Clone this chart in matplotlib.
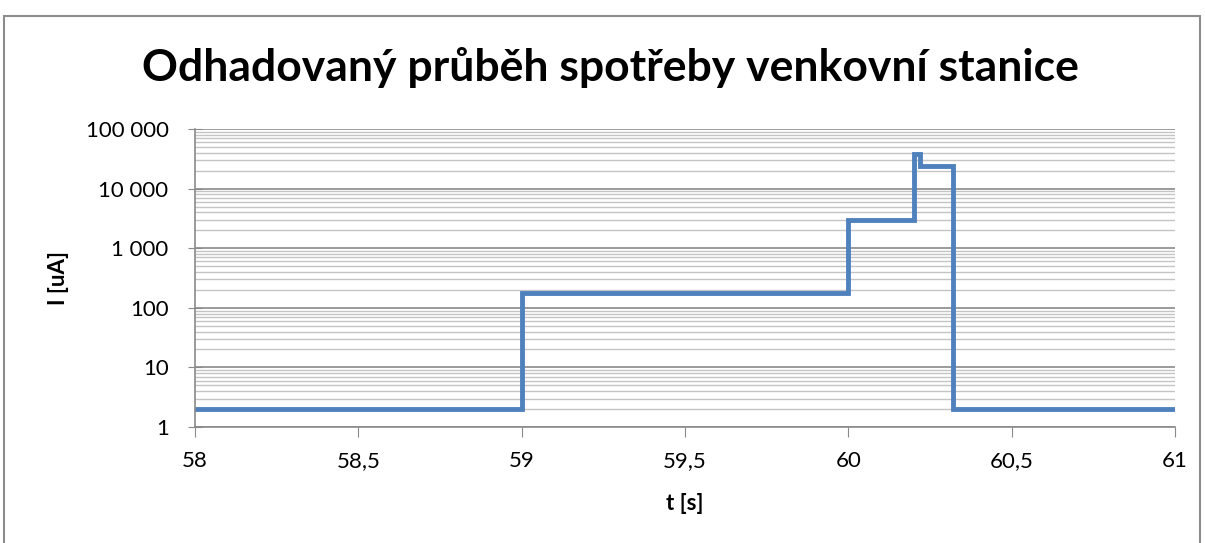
import matplotlib.pyplot as plt
from matplotlib.patches import Rectangle
from matplotlib.ticker import FixedLocator, FuncFormatter, LogLocator, NullFormatter

TIME_S = [58, 59, 60, 60.2, 60.22, 60.32, 61]
CURRENT_UA = [2, 175, 3000, 38000, 24000, 2, 2]
X_TICKS = [58, 58.5, 59, 59.5, 60, 60.5, 61]
Y_TICKS = [1, 10, 100, 1000, 10000, 100000]

LINE_COLOR = '#4F81BD'
FONT = ['Lato', 'DejaVu Sans']

plt.rcParams['font.family'] = FONT

fig = plt.figure(figsize=(12.05, 5.43), dpi=100)
fig.patches.append(Rectangle(
    (4 / 1205, -0.1), 1196 / 1205, 1.1 - 16 / 543,
    transform=fig.transFigure, fill=False, edgecolor='#8c8c8c', linewidth=1.5
))

ax = fig.add_axes([195 / 1205, 1 - 427 / 543, 980 / 1205, 298 / 543])
ax.step(TIME_S, CURRENT_UA, where='post', color=LINE_COLOR, linewidth=3.5,
        solid_joinstyle='miter')

ax.set_yscale('log')
ax.set_xlim(58, 61)
ax.set_ylim(1, 100000)
ax.xaxis.set_major_locator(FixedLocator(X_TICKS))
ax.xaxis.set_major_formatter(
    FuncFormatter(lambda v, _: f'{v:g}'.replace('.', ','))
)
ax.yaxis.set_major_locator(FixedLocator(Y_TICKS))
ax.yaxis.set_minor_locator(LogLocator(base=10, subs=range(2, 10)))
ax.yaxis.set_minor_formatter(NullFormatter())
ax.yaxis.set_major_formatter(
    FuncFormatter(lambda v, _: f'{int(round(v)):,}'.replace(',', ' '))
)

ax.grid(True, which='major', axis='y', color='#8a8a8a', linewidth=1.2)
ax.grid(True, which='minor', axis='y', color='#c4c4c4', linewidth=1.0)
ax.set_axisbelow(True)

for side in ['top', 'right']:
    ax.spines[side].set_visible(False)
for side in ['left', 'bottom']:
    ax.spines[side].set_color('#8a8a8a')
    ax.spines[side].set_linewidth(1.2)
ax.tick_params(axis='x', which='major', direction='out', length=7,
               color='#8a8a8a', labelsize=16, pad=10)
ax.tick_params(axis='y', which='major', direction='inout', length=10,
               color='#8a8a8a', labelsize=16, pad=14)
ax.tick_params(axis='y', which='minor', length=0)

ax.set_xlabel('t [s]', fontsize=16, fontweight='bold', labelpad=16)
ax.set_ylabel('I [uA]', fontsize=16, fontweight='bold', labelpad=12)
fig.text(0.507, 1 - 68 / 543, 'Odhadovaný průběh spotřeby venkovní stanice',
         ha='center', va='center', fontsize=32, fontweight='bold')

fig.savefig('out.png', dpi=100)
